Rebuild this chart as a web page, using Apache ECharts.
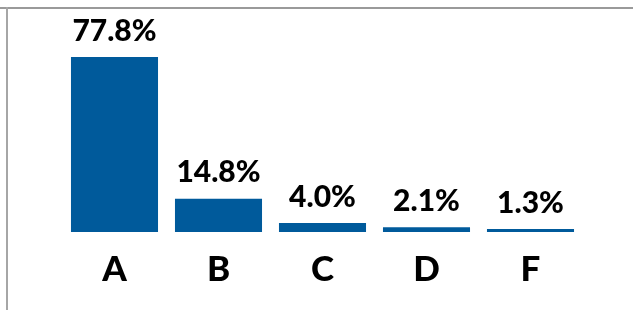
<!DOCTYPE html>
<html>
<head>
<meta charset="utf-8">
<script src="https://cdn.jsdelivr.net/npm/echarts@6/dist/echarts.min.js"></script>
<style>
  html, body { margin: 0; padding: 0; background: #fff; }
  #chart { width: 633px; height: 310px; }
</style>
</head>
<body>
<div id="chart"></div>
<script>
const categories = ['A', 'B', 'C', 'D', 'F']
const shares = [77.8, 14.8, 4.0, 2.1, 1.3]

const chart = echarts.init(document.getElementById('chart'))

const option = {
  animation: false,
  grid: {
    left: 62.5,
    right: 50.5,
    top: 7,
    bottom: 78
  },
  // frame lines on top and left
  graphic: [
    { type: 'rect', shape: { x: 0, y: 7, width: 633, height: 2 }, style: { fill: '#9a9a9a' } },
    { type: 'rect', shape: { x: 6, y: 7, width: 2, height: 303 }, style: { fill: '#a6a6a6' } }
  ],
  xAxis: {
    type: 'category',
    data: categories,
    axisLine: { show: false },
    axisTick: { show: false },
    axisLabel: {
      margin: 20,
      fontFamily: 'Lato',
      fontWeight: 900,
      fontSize: 35,
      color: '#000'
    }
  },
  yAxis: {
    type: 'value',
    min: 0,
    max: 100,
    show: false,
    splitLine: { show: false }
  },
  series: [
    {
      type: 'bar',
      data: shares,
      barCategoryGap: '16.3%',
      itemStyle: { color: '#005a9b' },
      label: {
        show: true,
        position: 'top',
        distance: 11,
        formatter: p => p.value.toFixed(1) + '%',
        fontFamily: 'Lato',
        fontWeight: 900,
        fontSize: 30,
        color: '#000'
      }
    }
  ]
}

chart.setOption(option)
</script>
</body>
</html>
